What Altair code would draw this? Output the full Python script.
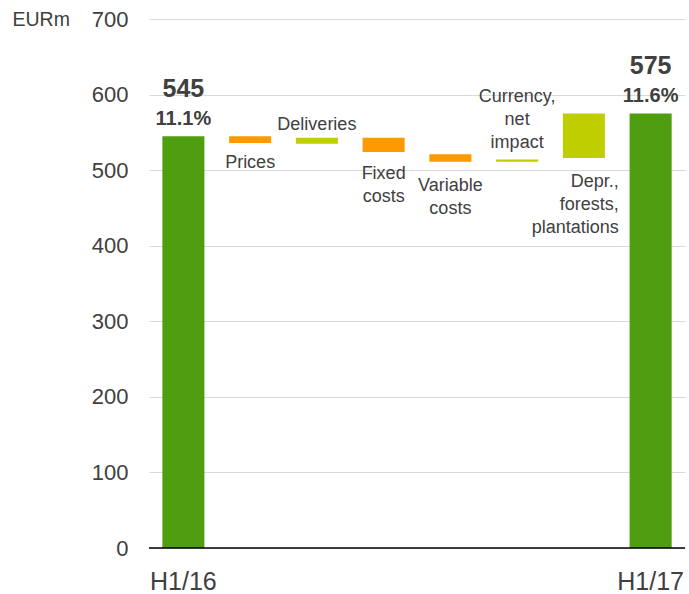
import altair as alt
import pandas as pd

# Operating result bridge, EURm
categories = ["H1/16", "Prices", "Deliveries", "Fixed costs", "Variable costs",
              "Currency, net impact", "Depr., forests, plantations", "H1/17"]
bar_low = [0, 536, 535, 524, 511, 511, 516, 0]
bar_high = [545, 545, 543, 543, 521, 514, 575, 575]
bar_kind = ["total", "decrease", "increase", "decrease", "decrease",
            "increase", "increase", "total"]
step_labels = ["", "Prices", "Deliveries", "Fixed\ncosts", "Variable\ncosts",
               "Currency,\nnet\nimpact", "Depr.,\nforests,\nplantations", ""]
margins = {"H1/16": "11.1%", "H1/17": "11.6%"}
y_ticks = [0, 100, 200, 300, 400, 500, 600, 700]

FONT = "Liberation Sans"
TEXT = "#404040"
GREEN, ORANGE, LIME = "#4f9e0f", "#ff9900", "#bfce00"

df = pd.DataFrame({
    "category": categories,
    "low": bar_low,
    "high": bar_high,
    "kind": bar_kind,
    "label": step_labels,
    "margin": [margins.get(c, "") for c in categories],
})

x_scale = alt.Scale(paddingInner=0.37, paddingOuter=0.2)
x_axis = alt.Axis(
    title=None, labelAngle=0, domain=False, ticks=False, tickSize=0,
    labelExpr="datum.value == 'H1/16' || datum.value == 'H1/17' ? datum.value : ''",
    labelFontSize=25, labelPadding=21, labelColor=TEXT, labelFont=FONT,
)
y_scale = alt.Scale(domain=[0, 700], nice=False)
y_axis = alt.Axis(
    values=y_ticks, domain=False, ticks=False, tickSize=0,
    labelFontSize=22, labelPadding=21, labelColor=TEXT, labelFont=FONT,
    gridColor="#d9d9d9", gridWidth=1,
    title="EURm", titleAngle=0, titleX=-137, titleY=0,
    titleAlign="left", titleBaseline="middle", titleFontSize=19.5,
    titleFontWeight="normal", titleColor=TEXT, titleFont=FONT,
)


def X():
    return alt.X("category:N", sort=categories, scale=x_scale, axis=x_axis)


def Y(field):
    return alt.Y(field, scale=y_scale, axis=y_axis)


bars = alt.Chart(df).mark_bar().encode(
    x=X(),
    y=Y("low:Q"),
    y2="high:Q",
    color=alt.Color("kind:N", legend=None,
                    scale=alt.Scale(domain=["total", "decrease", "increase"],
                                    range=[GREEN, ORANGE, LIME])),
)

zero_line = alt.Chart(pd.DataFrame({"low": [0]})).mark_rule(
    color="black", strokeWidth=1.5
).encode(y=Y("low:Q"))

# bold totals above the end bars
totals = alt.Chart(df).transform_filter(alt.datum.kind == "total")
total_values = totals.mark_text(
    font=FONT, fontSize=25, fontWeight="bold", color=TEXT,
    baseline="alphabetic", dy=-39,
).encode(x=X(), y=Y("high:Q"), text=alt.Text("high:Q", format="d"))
total_margins = totals.mark_text(
    font=FONT, fontSize=20, fontWeight="bold", color=TEXT,
    baseline="alphabetic", dy=-11,
).encode(x=X(), y=Y("high:Q"), text="margin:N")

# step captions: (anchor end of bar, offset of first line top, align, horizontal offset)
placement = {
    "Prices": ("low:Q", 11, "center", 0),
    "Deliveries": ("high:Q", -22, "center", 0),
    "Fixed costs": ("low:Q", 13, "center", 0),
    "Variable costs": ("low:Q", 15, "center", 0),
    "Currency, net impact": ("high:Q", -72, "center", 0),
    "Depr., forests, plantations": ("low:Q", 14.5, "right", 35),
}
captions = []
for cat, (field, dy, align, dx) in placement.items():
    captions.append(
        alt.Chart(df).transform_filter(alt.datum.category == cat).mark_text(
            font=FONT, fontSize=18, color=TEXT, lineBreak="\n", lineHeight=23,
            baseline="top", align=align, dx=dx, dy=dy,
        ).encode(x=X(), y=Y(field), text="label:N")
    )

chart = alt.layer(bars, zero_line, total_values, total_margins, *captions).properties(
    width=536, height=529,
    padding={"left": 149, "top": 19, "right": 4, "bottom": 46},
    autosize=alt.AutoSizeParams(type="none"),
).configure_view(stroke=None)

chart.save("out.html", embed_options={"renderer": "svg", "actions": False})
